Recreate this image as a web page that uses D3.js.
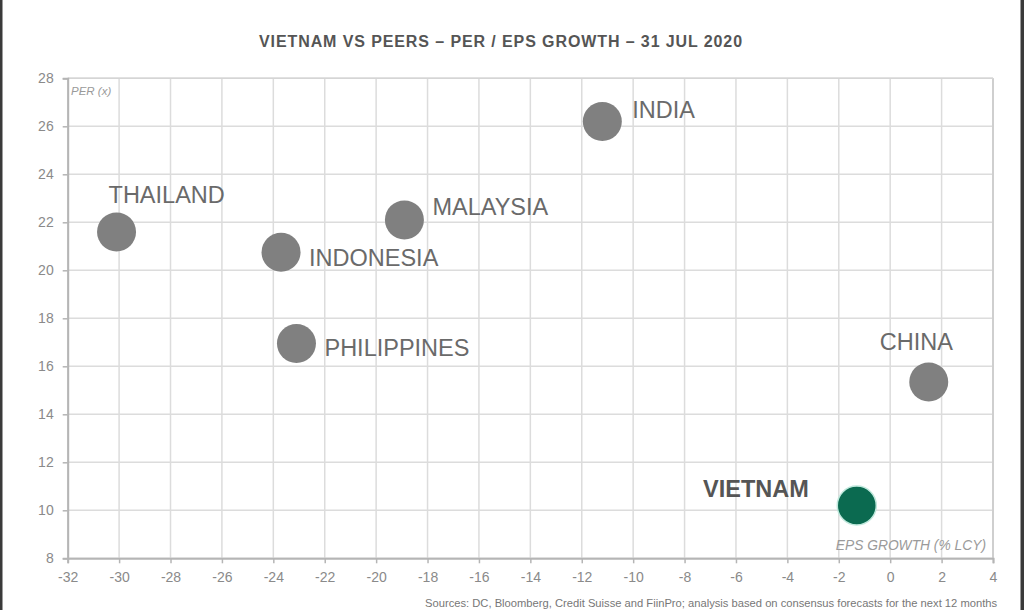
<!DOCTYPE html>
<html><head><meta charset="utf-8">
<script src="https://cdn.jsdelivr.net/npm/d3@7"></script>
<style>
html,body{margin:0;padding:0;background:#fff;}
svg{display:block;}
</style></head>
<body>
<script>
const countries = ["THAILAND","INDONESIA","PHILIPPINES","MALAYSIA","INDIA","CHINA","VIETNAM"];
const epsGrowth = [-30.1, -23.7, -23.1, -18.9, -11.2, 1.5, -1.3];
const per = [21.6, 20.75, 16.95, 22.1, 26.2, 15.35, 10.2];
const xTicks = d3.range(-32, 5, 2);
const yTicks = d3.range(8, 29, 2);
const title = "VIETNAM VS PEERS – PER / EPS GROWTH – 31 JUL 2020";
const yAxisTitle = "PER (x)";
const xAxisTitle = "EPS GROWTH (% LCY)";
const source = "Sources: DC, Bloomberg, Credit Suisse and FiinPro; analysis based on consensus forecasts for the next 12 months";

const W = 1024, H = 610;
const svg = d3.select("body").append("svg").attr("width", W).attr("height", H)
  .style("font-family", "'Liberation Sans', Arial, sans-serif");

const x = d3.scaleLinear().domain([-32, 4]).range([67.7, 993]);
const y = d3.scaleLinear().domain([8, 28]).range([558.3, 78.3]);

// frame borders of screenshot
svg.append("rect").attr("x", 0).attr("y", 0).attr("width", 2.5).attr("height", H).attr("fill", "#3a3a3a");
svg.append("rect").attr("x", 1020.5).attr("y", 0).attr("width", 3.5).attr("height", H).attr("fill", "#3a3a3a");

svg.append("text").attr("x", 501).attr("y", 47).attr("text-anchor", "middle")
  .attr("font-size", 16).attr("font-weight", "bold").attr("letter-spacing", 0.9)
  .attr("fill", "#555").text(title);

// grid
const g = svg.append("g");
g.selectAll("line.vg").data(xTicks).join("line").attr("class","vg")
  .attr("x1", d => x(d)).attr("x2", d => x(d)).attr("y1", y(28)).attr("y2", y(8))
  .attr("stroke", "#dcdcdc").attr("stroke-width", 1.5);
g.selectAll("line.hg").data(yTicks).join("line").attr("class","hg")
  .attr("y1", d => y(d)).attr("y2", d => y(d)).attr("x1", x(-32)).attr("x2", x(4))
  .attr("stroke", "#dcdcdc").attr("stroke-width", 1.5);
// right border
g.append("line").attr("x1", x(4)).attr("x2", x(4)).attr("y1", y(28)).attr("y2", y(8))
  .attr("stroke", "#cfcfcf").attr("stroke-width", 2);
g.append("line").attr("x1", x(-32)).attr("x2", x(4)).attr("y1", y(28)).attr("y2", y(28))
  .attr("stroke", "#d5d5d5").attr("stroke-width", 1.5);

// axes
const xAxis = svg.append("g").attr("transform", `translate(0,${y(8)})`)
  .call(d3.axisBottom(x).tickValues(xTicks).tickSize(5).tickPadding(9).tickFormat(d3.format("d")));
const yAxis = svg.append("g").attr("transform", `translate(${x(-32)},0)`)
  .call(d3.axisLeft(y).tickValues(yTicks).tickSize(5).tickPadding(9).tickFormat(d3.format("d")));
[xAxis, yAxis].forEach(a => {
  a.select(".domain").attr("stroke", "#b5b5b5").attr("stroke-width", 2);
  a.selectAll(".tick line").attr("stroke", "#b5b5b5").attr("stroke-width", 1.5);
  a.selectAll(".tick text").attr("fill", "#8a8a8a").attr("font-size", 14)
    .attr("font-family", "'Liberation Sans', Arial, sans-serif");
});
xAxis.selectAll(".tick text").text(d => d < 0 ? "-" + Math.abs(d) : d);

svg.append("text").attr("x", 71).attr("y", 95).attr("font-size", 11.5).attr("font-style", "italic")
  .attr("fill", "#9a9a9a").text(yAxisTitle);
svg.append("text").attr("x", 986).attr("y", 550).attr("text-anchor", "end").attr("font-size", 13.8)
  .attr("font-style", "italic").attr("fill", "#9a9a9a").text(xAxisTitle);

// points
const data = countries.map((c, i) => ({c, x: epsGrowth[i], y: per[i]}));
svg.selectAll("circle.pt").data(data).join("circle").attr("class", "pt")
  .attr("cx", d => x(d.x)).attr("cy", d => y(d.y)).attr("r", 19.5)
  .attr("fill", d => d.c === "VIETNAM" ? "#0b6a50" : "#808080")
  .attr("stroke", d => d.c === "VIETNAM" ? "#bfe8dc" : "none").attr("stroke-width", 1.5);

// labels: offset per country (dx, dy in px relative to point)
const labelOffsets = {
  THAILAND: [-8, -29, "start"],
  INDONESIA: [28, 14, "start"],
  PHILIPPINES: [28, 12, "start"],
  MALAYSIA: [28, -5, "start"],
  INDIA: [30, -4, "start"],
  CHINA: [-49, -32, "start"],
  VIETNAM: [-48, -9, "end"]
};
svg.selectAll("text.lbl").data(data).join("text").attr("class", "lbl")
  .attr("x", d => x(d.x) + labelOffsets[d.c][0])
  .attr("y", d => y(d.y) + labelOffsets[d.c][1])
  .attr("text-anchor", d => labelOffsets[d.c][2])
  .attr("font-size", 23.5)
  .attr("font-weight", d => d.c === "VIETNAM" ? "bold" : "normal")
  .attr("fill", d => d.c === "VIETNAM" ? "#555" : "#6a6a6a")
  .text(d => d.c);

svg.append("text").attr("x", 425).attr("y", 607).attr("font-size", 11.2).attr("fill", "#777").text(source);
</script>
</body></html>
